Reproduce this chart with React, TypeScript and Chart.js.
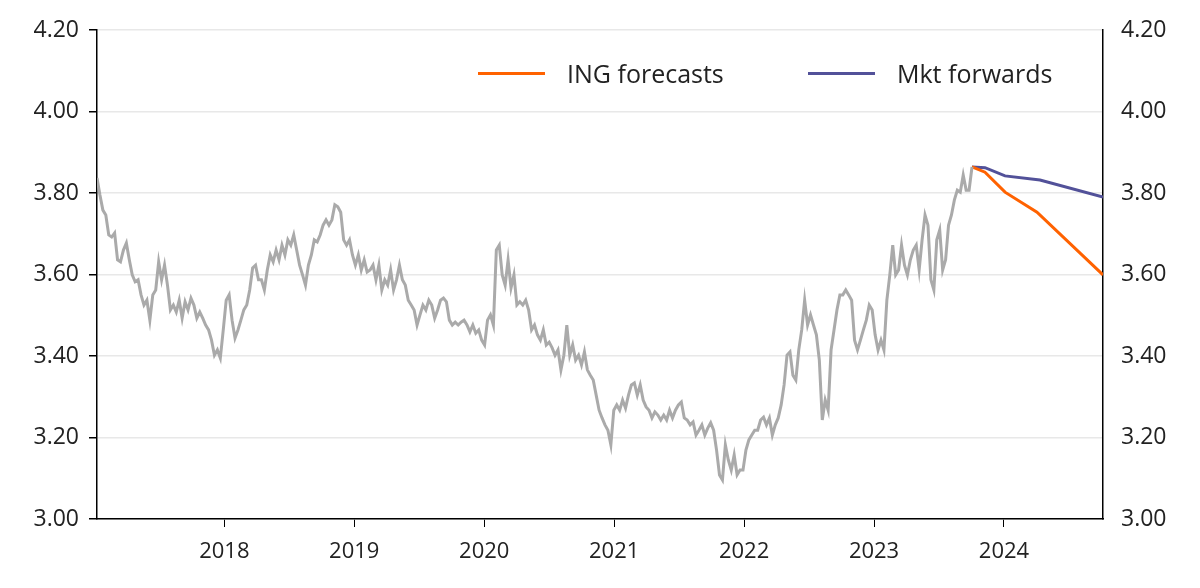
import React, { useEffect, useRef } from "react";
import { Chart, registerables } from "chart.js";
Chart.register(...registerables);

const histStart = 2017.02;
const histEnd = 2023.754;
const histValues = [3.837,3.795,3.758,3.746,3.697,3.692,3.702,3.636,3.631,3.66,3.677,3.636,3.599,3.582,3.587,3.55,3.525,3.537,3.488,3.55,3.562,3.631,3.587,3.623,3.574,3.513,3.525,3.508,3.537,3.493,3.533,3.513,3.542,3.525,3.493,3.508,3.493,3.476,3.464,3.439,3.402,3.415,3.395,3.464,3.537,3.55,3.488,3.444,3.464,3.488,3.513,3.525,3.562,3.616,3.623,3.587,3.587,3.562,3.611,3.648,3.631,3.66,3.636,3.672,3.648,3.685,3.672,3.697,3.66,3.623,3.599,3.574,3.623,3.648,3.685,3.68,3.697,3.721,3.734,3.721,3.734,3.771,3.766,3.753,3.685,3.672,3.685,3.648,3.623,3.648,3.611,3.636,3.606,3.611,3.623,3.587,3.623,3.562,3.587,3.574,3.611,3.562,3.587,3.623,3.587,3.574,3.537,3.525,3.513,3.476,3.501,3.525,3.513,3.537,3.525,3.493,3.513,3.537,3.542,3.533,3.488,3.476,3.483,3.476,3.483,3.488,3.476,3.459,3.476,3.456,3.464,3.439,3.427,3.488,3.501,3.476,3.66,3.672,3.599,3.574,3.636,3.567,3.599,3.525,3.533,3.525,3.537,3.513,3.464,3.476,3.452,3.439,3.464,3.427,3.434,3.42,3.402,3.415,3.366,3.402,3.476,3.402,3.427,3.39,3.402,3.378,3.41,3.366,3.353,3.341,3.304,3.267,3.248,3.231,3.218,3.182,3.267,3.28,3.267,3.292,3.272,3.304,3.329,3.334,3.304,3.329,3.292,3.275,3.267,3.248,3.263,3.255,3.243,3.255,3.243,3.267,3.248,3.267,3.28,3.287,3.248,3.243,3.231,3.238,3.206,3.218,3.231,3.206,3.223,3.236,3.218,3.169,3.108,3.096,3.182,3.145,3.12,3.157,3.108,3.12,3.12,3.169,3.194,3.206,3.218,3.218,3.243,3.25,3.231,3.248,3.206,3.231,3.248,3.28,3.329,3.402,3.41,3.353,3.341,3.415,3.464,3.537,3.476,3.501,3.476,3.452,3.39,3.243,3.292,3.267,3.415,3.464,3.513,3.55,3.55,3.562,3.55,3.537,3.439,3.415,3.439,3.464,3.488,3.525,3.513,3.452,3.415,3.439,3.415,3.537,3.599,3.672,3.599,3.611,3.672,3.623,3.599,3.636,3.66,3.672,3.611,3.685,3.746,3.721,3.587,3.562,3.685,3.709,3.611,3.636,3.721,3.746,3.783,3.807,3.802,3.844,3.807,3.807,3.864];

const ingDates = [2023.754, 2023.854, 2024.008, 2024.254, 2024.762];
const ingValues = [3.864, 3.851, 3.802, 3.753, 3.599];
const mktDates = [2023.754, 2023.854, 2024.008, 2024.277, 2024.762];
const mktValues = [3.864, 3.862, 3.842, 3.832, 3.79];
const yearTicks = [2018, 2019, 2020, 2021, 2022, 2023, 2024];

const FONT = "'Open Sans', sans-serif";
const TXT = "#222";

export default function App() {
  const ref = useRef<HTMLCanvasElement>(null);
  useEffect(() => {
    const n = histValues.length;
    const hist = histValues.map((v, i) => ({ x: histStart + (i * (histEnd - histStart)) / (n - 1), y: v }));
    const ing = ingDates.map((d, i) => ({ x: d, y: ingValues[i] }));
    const mkt = mktDates.map((d, i) => ({ x: d, y: mktValues[i] }));
    const yAxis = (pos: "left" | "right") => ({
      type: "linear" as const,
      position: pos,
      min: 3.0,
      max: 4.2,
      afterFit: (s: any) => { s.width = 97; },
      afterBuildTicks: (s: any) => { s.ticks = [3.0, 3.2, 3.4, 3.6, 3.8, 4.0, 4.2].map((v) => ({ value: v })); },
      border: { display: true, color: "#000", width: 1.5 },
      grid: { display: pos === "left", color: "#e8e8e8", lineWidth: 1.5, drawTicks: true, tickLength: 8, tickColor: "#000" },
      ticks: { font: { family: FONT, size: 23 }, color: TXT, padding: 10, callback: (v: any) => Number(v).toFixed(2) },
    });
    const chart = new Chart(ref.current!, {
      type: "line",
      data: {
        datasets: [
          { data: hist, borderColor: "#aaaaaa", borderWidth: 3, pointRadius: 0, tension: 0 },
          { data: ing, borderColor: "#ff6200", borderWidth: 3, pointRadius: 0, tension: 0 },
          { data: mkt, borderColor: "#525199", borderWidth: 3, pointRadius: 0, tension: 0 },
        ],
      },
      options: {
        animation: false,
        responsive: false,
        layout: { padding: { top: 30, left: 0, right: 0, bottom: 0 } },
        plugins: { legend: { display: false }, tooltip: { enabled: false } },
        scales: {
          x: {
            type: "linear",
            min: histStart,
            max: 2024.762,
            afterFit: (s: any) => { s.height = 69; },
            afterBuildTicks: (s: any) => { s.ticks = yearTicks.map((v) => ({ value: v })); },
            border: { display: true, color: "#000", width: 1.5 },
            grid: { drawOnChartArea: false, drawTicks: true, tickLength: 8, tickColor: "#000" },
            ticks: { font: { family: FONT, size: 22 }, color: TXT, padding: 12, maxRotation: 0, callback: (v: any) => String(v) },
          },
          y: yAxis("left"),
          y2: yAxis("right"),
        },
      },
    });
    return () => chart.destroy();
  }, []);
  const legItem = (left: number, color: string, label: string) => (
    <div style={{ position: "absolute", left, top: 56, display: "flex", alignItems: "center", fontFamily: FONT, fontSize: 25, color: TXT }}>
      <span style={{ display: "inline-block", width: 67, height: 3, background: color, marginRight: 22 }} />
      {label}
    </div>
  );
  return (
    <div style={{ position: "fixed", left: 0, top: 0, width: 1200, height: 588, background: "#fff" }}>
      <canvas ref={ref} width={1200} height={588} style={{ width: 1200, height: 588 }} />
      {legItem(478, "#ff6200", "ING forecasts")}
      {legItem(808, "#525199", "Mkt forwards")}
    </div>
  );
}
